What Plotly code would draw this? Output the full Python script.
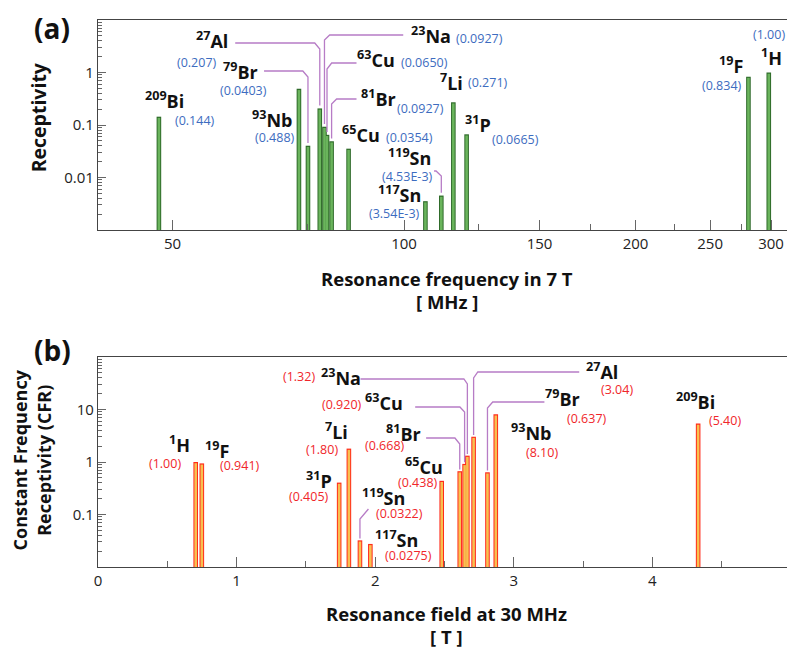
import numpy as np
import plotly.graph_objects as go

# ---------------- data ----------------
mass = ["1", "19", "31", "7", "119", "117", "65", "81", "63", "23", "27", "79", "93", "209"]
symbol = ["H", "F", "P", "Li", "Sn", "Sn", "Cu", "Br", "Cu", "Na", "Al", "Br", "Nb", "Bi"]
freq_7T = [298.0, 280.4, 120.6, 115.9, 111.8, 106.6, 84.7, 80.5, 79.4, 78.8, 77.7, 75.0, 73.0, 48.0]
receptivity = [1.00, 0.834, 0.0665, 0.271, 4.53e-3, 3.54e-3, 0.0354, 0.049, 0.065, 0.0927, 0.207, 0.0403, 0.488, 0.144]
recept_text = ["(1.00)", "(0.834)", "(0.0665)", "(0.271)", "(4.53E-3)", "(3.54E-3)", "(0.0354)",
               "(0.0927)", "(0.0650)", "(0.0927)", "(0.207)", "(0.0403)", "(0.488)", "(0.144)"]
field_30MHz = [0.705, 0.749, 1.74, 1.81, 1.89, 1.965, 2.48, 2.61, 2.645, 2.665, 2.71, 2.81, 2.87, 4.33]
cfr = [1.00, 0.941, 0.405, 1.80, 0.0322, 0.0275, 0.438, 0.668, 0.920, 1.32, 3.04, 0.637, 8.10, 5.40]
cfr_text = ["(1.00)", "(0.941)", "(0.405)", "(1.80)", "(0.0322)", "(0.0275)", "(0.438)",
            "(0.668)", "(0.920)", "(1.32)", "(3.04)", "(0.637)", "(8.10)", "(5.40)"]

top_xticks = [50, 100, 150, 200, 250, 300]
top_xminor = [75, 125, 175, 225, 275]
top_yticks = [0.01, 0.1, 1]
bot_xticks = [0, 1, 2, 3, 4, 5]
bot_xminor = [0.5, 1.5, 2.5, 3.5, 4.5]
bot_yticks = [0.1, 1, 10]

# ---------------- layout geometry ----------------
# page body adds an 8 px margin; the figure is sized so the page fits 795x648
W, H = 787, 640
ML, MR, MT, MB = 90, 0, 12, 81
PW, PH = W - ML - MR, H - MT - MB
SCR_L, SCR_B = 98, 567          # screen pixel of plot-area left / bottom
TOP_Y0, TOP_Y1 = 230, 20        # screen rows of top panel bottom/top
BOT_Y0, BOT_Y1 = 567, 357
XL_TOP = [np.log10(40.0), np.log10(318.5)]
YL_TOP = [-3, 1]
XL_BOT = [0, 5]
YL_BOT = [-2, 2]

def px(x):
    return (x - SCR_L) / PW

def py(y):
    return (SCR_B - y) / PH

# screen pixel -> data helpers (for leader-line elbows)
def top_x(p):
    return 10 ** (XL_TOP[0] + (p - SCR_L) / PW * (XL_TOP[1] - XL_TOP[0]))

def top_y(p):
    return 10 ** (YL_TOP[0] + (TOP_Y0 - p) / (TOP_Y0 - TOP_Y1) * (YL_TOP[1] - YL_TOP[0]))

def bot_x(p):
    return XL_BOT[0] + (p - SCR_L) / PW * (XL_BOT[1] - XL_BOT[0])

def bot_y(p):
    return 10 ** (YL_BOT[0] + (BOT_Y0 - p) / (BOT_Y0 - BOT_Y1) * (YL_BOT[1] - YL_BOT[0]))

FONT = "Open Sans"
GREEN_EDGE, GREEN_FILL = "#2f6b2a", "#6ab45c"
RED_EDGE, RED_FILL = "#ff2b1c", "#f8c050"
BLUE, RED = "#3d6cc0", "#f0262a"
LEAD = "#b77cc6"
AX = "#444444"

fig = go.Figure()

def bar_traces(xs, vals, base, edge, fill, xa, ya):
    xo, yo, xi, yi = [], [], [], []
    shrink = 10 ** (-1.2 * 4 / 210.0)
    for x, v in zip(xs, vals):
        xo += [x, x, None]
        yo += [base, v, None]
        xi += [x, x, None]
        yi += [base, v * shrink, None]
    fig.add_trace(go.Scatter(x=xo, y=yo, mode="lines", line=dict(color=edge, width=4.6),
                             xaxis=xa, yaxis=ya, hoverinfo="skip", showlegend=False))
    fig.add_trace(go.Scatter(x=xi, y=yi, mode="lines", line=dict(color=fill, width=2.6),
                             xaxis=xa, yaxis=ya, hoverinfo="skip", showlegend=False))

bar_traces(freq_7T, receptivity, 10 ** YL_TOP[0], GREEN_EDGE, GREEN_FILL, "x", "y")
bar_traces(field_30MHz, cfr, 10 ** YL_BOT[0], RED_EDGE, RED_FILL, "x2", "y2")

# ---------------- leader lines ----------------
# (nucleus index, start px, horizontal y px, corner px, drop px)
top_leads = [(10, 236, 43, 316, 6), (9, 405, 35, 331, 5), (8, 358, 63, 333, 6),
             (11, 265, 71, 304, 6), (7, 358, 99, 338, 5), (4, 436, 171, 438, 5)]
bot_leads = [(9, 362, 379, 466, 5), (8, 417, 407, 462, 5), (7, 428, 438, 457, 6),
             (10, 582, 372, 480, 6), (11, 547, 402, 495, 6), (4, 370, 509, 370, 10)]

for i, x0, yh, xc, dy in top_leads:
    bx = freq_7T[i]
    fig.add_trace(go.Scatter(
        x=[top_x(x0), top_x(xc), bx, bx],
        y=[top_y(yh), top_y(yh), top_y(yh + dy), receptivity[i] * 1.13],
        mode="lines", line=dict(color=LEAD, width=1.3), xaxis="x", yaxis="y",
        hoverinfo="skip", showlegend=False))

for i, x0, yh, xc, dy in bot_leads:
    bx = field_30MHz[i]
    fig.add_trace(go.Scatter(
        x=[bot_x(x0), bot_x(xc), bx, bx],
        y=[bot_y(yh), bot_y(yh), bot_y(yh + dy), cfr[i] * 1.08],
        mode="lines", line=dict(color=LEAD, width=1.3), xaxis="x2", yaxis="y2",
        hoverinfo="skip", showlegend=False))

# ---------------- labels ----------------
# screen pixel centres: (element label), (value label)
top_pos = {
    0: ((775, 57), (773, 35)),
    1: ((735, 65), (726, 86)),
    2: ((480, 124), (518, 139)),
    3: ((454, 82), (490, 82)),
    4: ((411, 157), (409, 176)),
    5: ((401, 194), (396, 213)),
    6: ((363, 134), (411, 137)),
    7: ((380, 98), (422, 108)),
    8: ((378, 59), (426, 62)),
    9: ((433, 35), (482, 39)),
    10: ((213, 40), (198, 62)),
    11: ((241, 71), (244, 90)),
    12: ((273, 119), (276, 137)),
    13: ((165, 100), (196, 121)),
}
bot_pos = {
    0: ((180, 444), (165, 463)),
    1: ((218, 450), (241, 465)),
    2: ((320, 480), (310, 496)),
    3: ((338, 431), (323, 449)),
    4: ((385, 497), (401, 513)),
    5: ((398, 539), (410, 555)),
    6: ((426, 466), (420, 482)),
    7: ((405, 433), (387, 445)),
    8: ((386, 402), (343, 404)),
    9: ((342, 377), (300, 377)),
    10: ((605, 371), (620, 389)),
    11: ((565, 398), (590, 418)),
    12: ((534, 432), (545, 452)),
    13: ((699, 401), (729, 420)),
}

ann = []

def add_text(x, y, text, size, color, xanchor="center"):
    ann.append(dict(x=px(x), y=py(y), xref="paper", yref="paper", text=text,
                    showarrow=False, xanchor=xanchor, yanchor="middle",
                    font=dict(family=FONT, size=size, color=color)))

for i in range(len(mass)):
    label = f"<b><sup>{mass[i]}</sup>{symbol[i]}</b>"
    (ex, ey), (vx, vy) = top_pos[i]
    add_text(ex, ey, label, 18, "#111111")
    add_text(vx, vy, recept_text[i], 12.5, BLUE)
    (ex, ey), (vx, vy) = bot_pos[i]
    add_text(ex, ey, label, 18, "#111111")
    add_text(vx, vy, cfr_text[i], 12.5, RED)

# panel letters and axis titles
add_text(52, 28, "<b>(a)</b>", 28, "#111111")
add_text(52, 350, "<b>(b)</b>", 28, "#111111")
add_text(449, 278, "<b>Resonance frequency in 7 T</b>", 18.5, "#111111")
add_text(449, 302, "<b>[ MHz ]</b>", 18.5, "#111111")
add_text(449, 613, "<b>Resonance field at 30 MHz</b>", 18.5, "#111111")
add_text(449, 636, "<b>[ T ]</b>", 18.5, "#111111")
ann.append(dict(x=px(39), y=py(117), xref="paper", yref="paper", text="<b>Receptivity</b>",
                showarrow=False, textangle=-90, xanchor="center", yanchor="middle",
                font=dict(family=FONT, size=19.5, color="#111111")))
ann.append(dict(x=px(31), y=py(460), xref="paper", yref="paper",
                text="<b>Constant Frequency<br>Receptivity (CFR)</b>",
                showarrow=False, textangle=-90, xanchor="center", yanchor="middle",
                font=dict(family=FONT, size=18, color="#111111")))

def log_minor(lo, hi):
    return [k * 10.0 ** e for e in range(lo, hi) for k in range(2, 10)]

tickfont = dict(family=FONT, size=15, color="#222222")
common = dict(showgrid=False, zeroline=False, showline=True, linecolor=AX, linewidth=1.2,
              ticks="inside", tickcolor="#666666", tickwidth=1.2, tickfont=tickfont)

fig.update_layout(
    width=W, height=H, margin=dict(l=ML, r=MR, t=MT, b=MB, pad=0),
    paper_bgcolor="white", plot_bgcolor="white", showlegend=False, hovermode=False,
    xaxis=dict(type="log", range=XL_TOP, domain=[0, 1], anchor="y", mirror=True,
               tickmode="array", tickvals=top_xticks, ticktext=[str(v) for v in top_xticks],
               ticklen=10, ticklabeloverflow="allow",
               minor=dict(tickmode="array", tickvals=top_xminor, ticks="inside",
                          ticklen=6, tickcolor="#666666"), **common),
    yaxis=dict(type="log", range=YL_TOP, domain=[py(TOP_Y0), py(TOP_Y1)], anchor="x",
               tickmode="array", tickvals=top_yticks, ticktext=["0.01", "0.1", "1"],
               ticklen=8, minor=dict(tickmode="array", tickvals=log_minor(-3, 1), ticks="inside",
                                     ticklen=4, tickcolor="#666666"), **common),
    xaxis2=dict(type="linear", range=XL_BOT, domain=[0, 1], anchor="y2", mirror=True,
                tickmode="array", tickvals=bot_xticks, ticktext=[str(v) for v in bot_xticks],
                ticklen=10, ticklabeloverflow="allow",
                minor=dict(tickmode="array", tickvals=bot_xminor, ticks="inside",
                           ticklen=6, tickcolor="#666666"), **common),
    yaxis2=dict(type="log", range=YL_BOT, domain=[py(BOT_Y0), py(BOT_Y1)], anchor="x2",
                tickmode="array", tickvals=bot_yticks, ticktext=["0.1", "1", "10"],
                ticklen=8, minor=dict(tickmode="array", tickvals=log_minor(-2, 2), ticks="inside",
                                      ticklen=4, tickcolor="#666666"), **common),
    annotations=ann,
)

fig.write_html("out.html")
